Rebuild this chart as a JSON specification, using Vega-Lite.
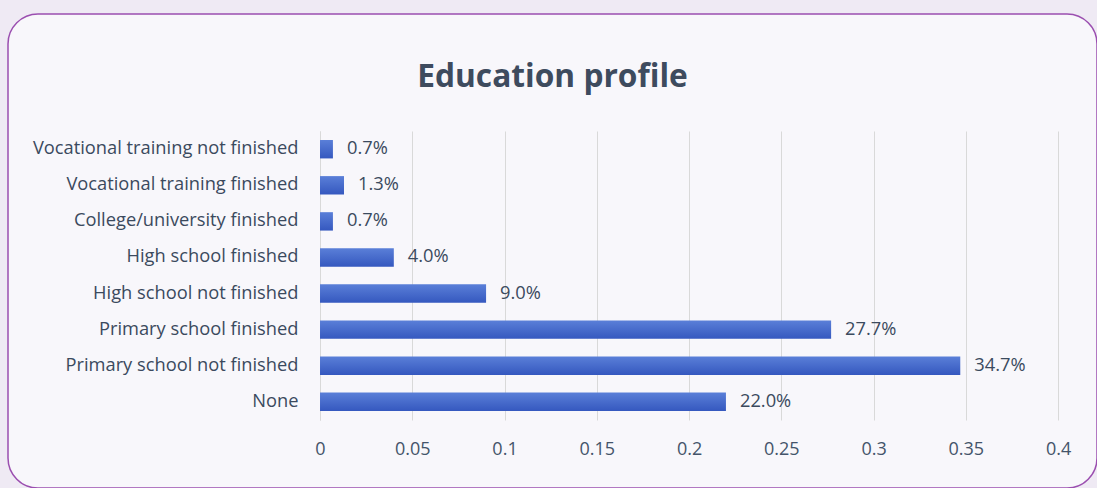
{
  "$schema": "https://vega.github.io/schema/vega-lite/v6.json",
  "width": 1089,
  "height": 474,
  "autosize": {"type": "none"},
  "padding": {"left": 8, "top": 14, "right": 0, "bottom": 0},
  "background": "#efeaf4",
  "title": {
    "text": "Education profile",
    "frame": "group",
    "anchor": "middle",
    "offset": -105,
    "baseline": "alphabetic",
    "font": "Open Sans",
    "fontSize": 31.7,
    "fontWeight": "bold",
    "color": "#3e4b5e"
  },
  "config": {
    "view": {"fill": "#f8f7fb", "stroke": "#9b4fb0", "strokeWidth": 1.5, "cornerRadius": 30},
    "font": "Open Sans"
  },
  "data": {
    "values": [
      {"level": "Vocational training not finished", "share": 0.007},
      {"level": "Vocational training finished", "share": 0.013},
      {"level": "College/university finished", "share": 0.007},
      {"level": "High school finished", "share": 0.04},
      {"level": "High school not finished", "share": 0.09},
      {"level": "Primary school finished", "share": 0.277},
      {"level": "Primary school not finished", "share": 0.347},
      {"level": "None", "share": 0.22}
    ]
  },
  "encoding": {
    "y": {
      "field": "level",
      "type": "nominal",
      "sort": null,
      "scale": {"range": [117, 406], "paddingInner": 0.49, "paddingOuter": 0.25},
      "axis": {
        "title": null,
        "offset": -312,
        "ticks": false,
        "domainColor": "#d9d9d9",
        "domainWidth": 1,
        "labelPadding": 22,
        "labelFontSize": 18.3,
        "labelColor": "#3b4a5e",
        "labelFont": "Open Sans",
        "labelLimit": 400
      }
    },
    "x": {
      "field": "share",
      "type": "quantitative",
      "scale": {"domain": [-0.1691, 0.4211], "nice": false, "zero": false},
      "axis": {
        "orient": "top",
        "title": null,
        "values": [0, 0.05, 0.1, 0.15, 0.2, 0.25, 0.3, 0.35, 0.4],
        "format": "~g",
        "offset": -435,
        "domain": false,
        "ticks": false,
        "grid": true,
        "gridColor": "#d9d9d9",
        "gridWidth": 1,
        "labelPadding": 0,
        "labelBaseline": "middle",
        "labelFontSize": 18,
        "labelColor": "#44546a",
        "labelFont": "Open Sans"
      }
    }
  },
  "layer": [
    {
      "mark": {
        "type": "bar",
        "color": {
          "gradient": "linear",
          "x1": 0, "y1": 0, "x2": 0, "y2": 1,
          "stops": [
            {"offset": 0, "color": "#5a7fd8"},
            {"offset": 1, "color": "#3558bf"}
          ]
        }
      },
      "encoding": {"x2": {"datum": 0}}
    },
    {
      "mark": {"type": "text", "align": "left", "dx": 14, "fontSize": 18.3, "color": "#3b4a5e", "font": "Open Sans"},
      "encoding": {"text": {"field": "share", "type": "quantitative", "format": ".1%"}}
    }
  ]
}
